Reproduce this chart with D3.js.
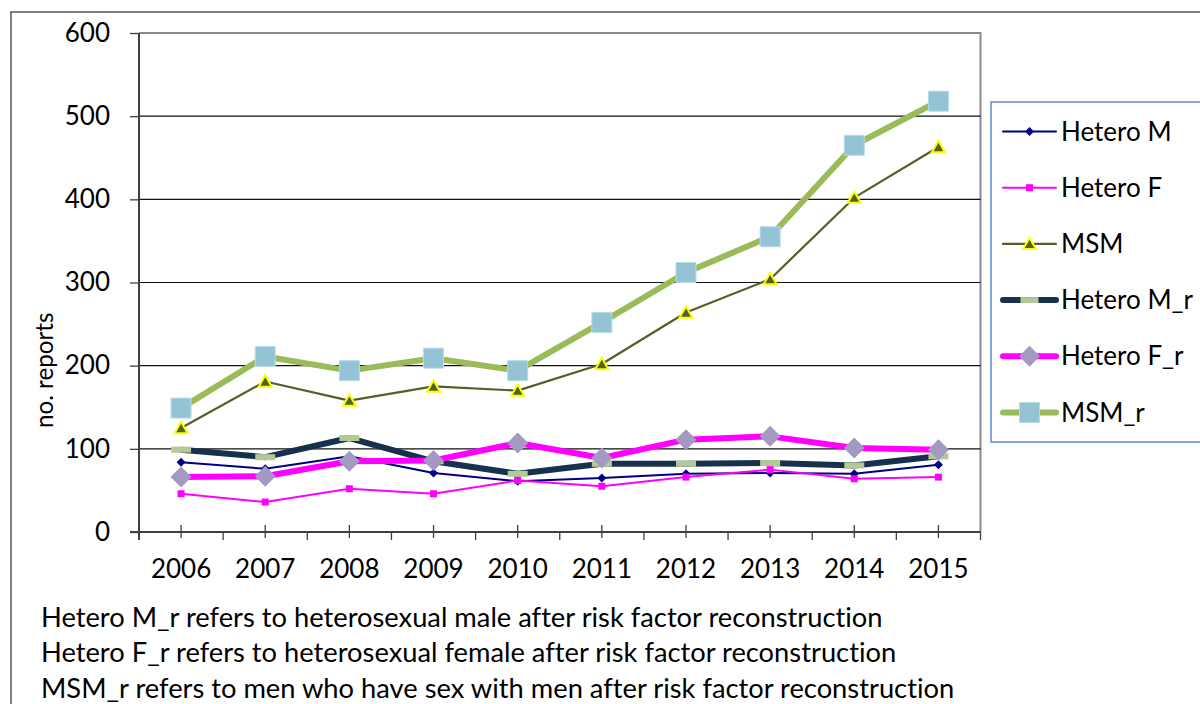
<!DOCTYPE html>
<html>
<head>
<meta charset="utf-8">
<script src="https://cdn.jsdelivr.net/npm/d3@7"></script>
<style>
  html, body { margin: 0; padding: 0; background: #fff; }
  svg { display: block; font-family: Lato, "Open Sans", sans-serif; font-variant-ligatures: none; }
</style>
</head>
<body>
<svg id="chart" width="1200" height="704"></svg>
<script>
const years = ["2006","2007","2008","2009","2010","2011","2012","2013","2014","2015"];
const yTicks = [0, 100, 200, 300, 400, 500, 600];
const heteroM  = [84, 76, 91, 71, 61, 65, 70, 71, 70, 81];
const heteroF  = [46, 36, 52, 46, 62, 55, 66, 75, 64, 66];
const msm      = [125, 181, 158, 175, 170, 202, 264, 304, 402, 463];
const heteroMr = [99, 90, 113, 85, 70, 82, 82, 83, 80, 91];
const heteroFr = [66, 67, 85, 86, 107, 89, 111, 115, 101, 99];
const msmR     = [149, 211, 194, 209, 194, 252, 312, 355, 465, 518];
const seriesNames = ["Hetero M", "Hetero F", "MSM", "Hetero M_r", "Hetero F_r", "MSM_r"];
const yTitle = "no. reports";
const footnotes = [
  "Hetero M_r refers to heterosexual male after risk factor reconstruction",
  "Hetero F_r refers to heterosexual female after risk factor reconstruction",
  "MSM_r refers to men who have sex with men after risk factor reconstruction"
];

const styles = [
  {line: "#000080", width: 2, marker: "diamond", size: 9, fill: "#000080", stroke: "none"},
  {line: "#ff00ff", width: 2, marker: "square", size: 7, fill: "#ff00ff", stroke: "none"},
  {line: "#4f6228", width: 2.2, marker: "triangle", size: 13, fill: "#4f6228", stroke: "#ffff00"},
  {line: "#17304d", width: 6, marker: "dash", size: 20, fill: "#b4c896", stroke: "none"},
  {line: "#ff00ff", width: 6, marker: "diamond", size: 21, fill: "#a399c2", stroke: "none"},
  {line: "#9bbb59", width: 6, marker: "square", size: 20, fill: "#93c3d5", stroke: "#b8dbe6"}
];
const seriesData = [heteroM, heteroF, msm, heteroMr, heteroFr, msmR];

const svg = d3.select("#chart");
const plot = {left: 139, right: 980.5, top: 33, bottom: 532};

// outer chart border
svg.append("rect").attr("x", 11).attr("y", 12).attr("width", 1300).attr("height", 800)
  .attr("fill", "none").attr("stroke", "#555").attr("stroke-width", 1.5);

const x = d3.scaleBand().domain(years).range([plot.left, plot.right]).padding(0);
const y = d3.scaleLinear().domain([0, 600]).range([plot.bottom, plot.top]);
const cx = d => x(d) + x.bandwidth() / 2;

// plot area border (gray)
svg.append("path")
  .attr("d", `M${plot.left},${plot.top}H${plot.right}V${plot.bottom}`)
  .attr("fill", "none").attr("stroke", "#8c8c8c").attr("stroke-width", 2);

// gridlines
svg.append("g").selectAll("line").data(yTicks.filter(t => t > 0 && t < 600)).join("line")
  .attr("x1", plot.left).attr("x2", plot.right)
  .attr("y1", d => y(d)).attr("y2", d => y(d))
  .attr("stroke", "#111").attr("stroke-width", 1.1);

// y axis
const yAxis = d3.axisLeft(y).tickValues(yTicks).tickSize(9).tickPadding(20).tickFormat(d3.format("d"));
const gy = svg.append("g").attr("transform", `translate(${plot.left},0)`).call(yAxis);
gy.select(".domain").remove();
gy.selectAll(".tick line").attr("stroke", "#404040").attr("stroke-width", 1.3);
gy.selectAll(".tick text").attr("font-size", 26).attr("fill", "#000").attr("font-family", "Lato");
svg.append("line").attr("x1", plot.left).attr("x2", plot.left).attr("y1", plot.top).attr("y2", plot.bottom + 8)
  .attr("stroke", "#404040").attr("stroke-width", 2);

// x axis
svg.append("line").attr("x1", plot.left - 9).attr("x2", plot.right).attr("y1", plot.bottom).attr("y2", plot.bottom)
  .attr("stroke", "#404040").attr("stroke-width", 2);
const bounds = years.map(d => x(d)).concat([plot.right]).slice(1);
svg.append("g").selectAll("line").data(bounds).join("line")
  .attr("x1", d => d).attr("x2", d => d).attr("y1", plot.bottom).attr("y2", plot.bottom + 8)
  .attr("stroke", "#404040").attr("stroke-width", 1.3);
svg.append("g").selectAll("line").data(years).join("line")
  .attr("x1", d => cx(d)).attr("x2", d => cx(d)).attr("y1", plot.bottom - 7).attr("y2", plot.bottom + 6)
  .attr("stroke", "#404040").attr("stroke-width", 1.3);
svg.append("g").selectAll("text").data(years).join("text")
  .attr("x", d => cx(d)).attr("y", 578).attr("text-anchor", "middle")
  .attr("font-size", 26).text(d => d);

// y title
svg.append("text").attr("transform", "translate(53,428) rotate(-90)")
  .attr("font-size", 24.2).text(yTitle);

function markerPath(type, s) {
  const h = s / 2;
  if (type === "diamond") return `M0,${-h}L${h},0L0,${h}L${-h},0Z`;
  if (type === "square") return `M${-h},${-h}H${h}V${h}H${-h}Z`;
  if (type === "triangle") return `M0,${-h*0.95}L${h},${h*0.8}L${-h},${h*0.8}Z`;
  if (type === "dash") return `M${-h},-3H${h}V3H${-h}Z`;
}

const line = d3.line().x((d, i) => cx(years[i])).y(d => y(d));

seriesData.forEach((vals, si) => {
  const st = styles[si];
  const g = svg.append("g");
  g.append("path").datum(vals).attr("d", line)
    .attr("fill", "none").attr("stroke", st.line).attr("stroke-width", st.width)
    .attr("stroke-linejoin", "round").attr("stroke-linecap", "round");
  g.selectAll("path.m").data(vals).join("path").attr("class", "m")
    .attr("transform", (d, i) => `translate(${cx(years[i])},${y(d)})`)
    .attr("d", markerPath(st.marker, st.size))
    .attr("fill", st.fill).attr("stroke", st.stroke).attr("stroke-width", st.marker === "triangle" ? 2 : 1);
});

// legend
svg.append("rect").attr("x", 991).attr("y", 102).attr("width", 260).attr("height", 340)
  .attr("fill", "#fff").attr("stroke", "#5b8bd0").attr("stroke-width", 1.5);
const legY = d3.scalePoint().domain(seriesNames).range([131.5, 412.5]);
seriesNames.forEach((name, si) => {
  const st = styles[si];
  const yy = legY(name);
  svg.append("line").attr("x1", 1003).attr("x2", 1056).attr("y1", yy).attr("y2", yy)
    .attr("stroke", st.line).attr("stroke-width", st.width).attr("stroke-linecap", "round");
  svg.append("path").attr("transform", `translate(1029.5,${yy})`)
    .attr("d", markerPath(st.marker, st.marker === "dash" ? 18 : st.size))
    .attr("fill", st.fill).attr("stroke", st.stroke).attr("stroke-width", st.marker === "triangle" ? 2 : 1);
  svg.append("text").attr("x", 1061).attr("y", yy).attr("dy", "0.35em")
    .attr("font-size", 26).text(name);
});

// footnotes
svg.append("g").selectAll("text").data(footnotes).join("text")
  .attr("x", 41).attr("y", (d, i) => 627 + i * 35.3)
  .attr("font-size", 27.3).text(d => d);
</script>
</body>
</html>
